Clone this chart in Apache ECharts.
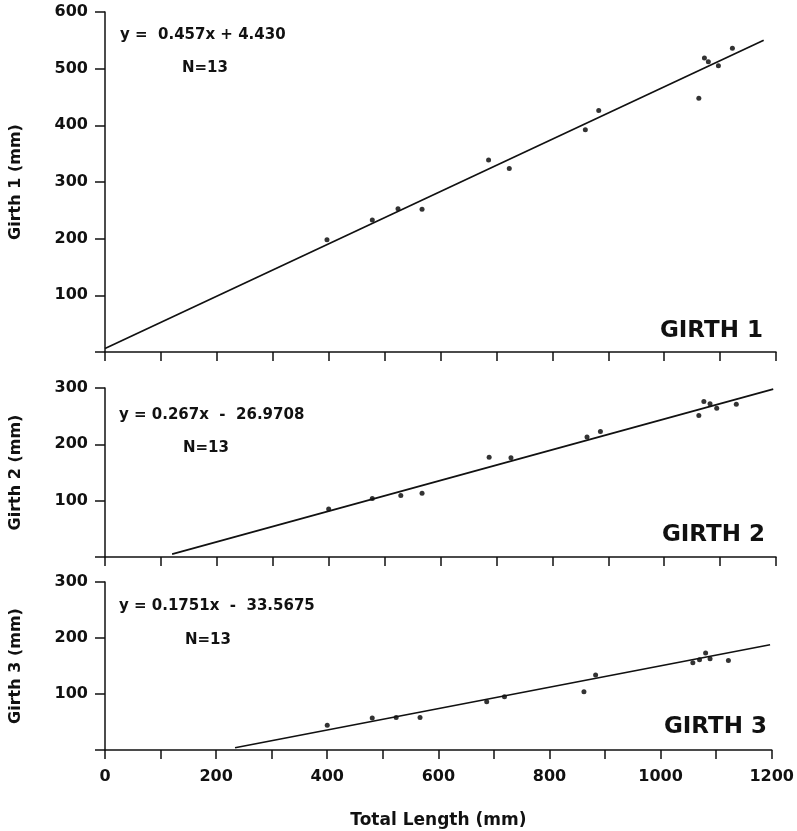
<!DOCTYPE html>
<html>
<head>
<meta charset="utf-8">
<script src="https://cdn.jsdelivr.net/npm/echarts@6/dist/echarts.min.js"></script>
<style>
  html, body { margin: 0; padding: 0; background: #fff; }
  #chart { width: 797px; height: 831px; }
</style>
</head>
<body>
<div id="chart"></div>
<script>
// measured points [total length, girth] for each panel
const girth1Points = [
  [397, 198], [478, 233], [524, 253], [567, 252], [686, 339], [723, 324],
  [859, 392], [883, 426], [1062, 448], [1072, 519], [1079, 512], [1097, 505], [1122, 536]
];
const girth2Points = [
  [400, 85], [478, 104], [529, 109], [567, 113], [687, 177], [726, 176],
  [862, 213], [886, 223], [1062, 251], [1071, 276], [1082, 272], [1094, 264], [1129, 271]
];
const girth3Points = [
  [400, 44], [481, 57], [524, 58], [567, 58], [687, 86], [719, 95],
  [862, 104], [883, 134], [1058, 156], [1070, 161], [1081, 173], [1089, 163], [1122, 160]
];

// regression line ends as drawn
const girth1Fit = [[0, 6], [1178, 550]];
const girth2Fit = [[120, 5], [1195, 298]];
const girth3Fit = [[234, 4], [1197, 188]];

const equations = ['y =  0.457x + 4.430', 'y = 0.267x  -  26.9708', 'y = 0.1751x  -  33.5675'];
const panelLabels = ['GIRTH 1', 'GIRTH 2', 'GIRTH 3'];
const yNames = ['Girth 1 (mm)', 'Girth 2 (mm)', 'Girth 3 (mm)'];
const yMax = [600, 300, 300];

const myChart = echarts.init(document.getElementById('chart'));

const font = 'DejaVu Sans';
const ink = '#111';

const grids = [
  { left: 105, right: 21, top: 12, height: 340 },
  { left: 105, right: 21, top: 388, height: 169 },
  { left: 105, right: 21, top: 582, height: 168 }
];

const xAxes = grids.map((g, i) => ({
  gridIndex: i,
  type: 'value',
  min: 0,
  max: 1200,
  interval: 100,
  splitLine: { show: false },
  axisLine: { lineStyle: { color: ink, width: 1.5 } },
  axisTick: { length: 9, lineStyle: { color: ink, width: 1.5 } },
  axisLabel: {
    show: i === 2,
    margin: 19,
    color: ink,
    fontFamily: font,
    fontWeight: 'bold',
    fontSize: 16,
    formatter: v => (v % 200 === 0 ? String(v) : '')
  },
  name: i === 2 ? 'Total Length (mm)' : '',
  nameLocation: 'middle',
  nameGap: 62,
  nameTextStyle: { color: ink, fontFamily: font, fontWeight: 'bold', fontSize: 17 }
}));

const yAxes = grids.map((g, i) => ({
  gridIndex: i,
  type: 'value',
  min: 0,
  max: yMax[i],
  interval: 100,
  splitLine: { show: false },
  axisLine: { lineStyle: { color: ink, width: 1.5 } },
  axisTick: { length: 10, lineStyle: { color: ink, width: 1.5 } },
  axisLabel: {
    margin: 17,
    color: ink,
    fontFamily: font,
    fontWeight: 'bold',
    fontSize: 16,
    formatter: v => (v === 0 ? '' : String(v))
  },
  name: yNames[i],
  nameLocation: 'middle',
  nameGap: 81,
  nameTextStyle: { color: ink, fontFamily: font, fontWeight: 'bold', fontSize: 16 }
}));

const pointSets = [girth1Points, girth2Points, girth3Points];
const fitSets = [girth1Fit, girth2Fit, girth3Fit];

const series = [];
pointSets.forEach((pts, i) => {
  series.push({
    type: 'line',
    xAxisIndex: i,
    yAxisIndex: i,
    data: fitSets[i],
    showSymbol: false,
    lineStyle: { color: ink, width: 1.7 },
    silent: true
  });
  series.push({
    type: 'scatter',
    xAxisIndex: i,
    yAxisIndex: i,
    data: pts,
    symbolSize: 5,
    itemStyle: { color: '#000' }
  });
});

const textStyle = (size) => ({ fill: ink, font: 'bold ' + size + 'px "' + font + '"' });
const eqPos = [[120, 35], [119, 415], [119, 606]];
const nPos = [[182, 68], [183, 448], [185, 640]];
const labelPos = [[763, 331], [765, 535], [767, 727]];

const graphic = [];
equations.forEach((eq, i) => {
  graphic.push({ type: 'text', x: eqPos[i][0], y: eqPos[i][1],
    style: Object.assign({ text: eq, textVerticalAlign: 'middle' }, textStyle(15)) });
  graphic.push({ type: 'text', x: nPos[i][0], y: nPos[i][1],
    style: Object.assign({ text: 'N=13', textVerticalAlign: 'middle' }, textStyle(15)) });
  graphic.push({ type: 'text', x: labelPos[i][0], y: labelPos[i][1],
    style: Object.assign({ text: panelLabels[i], textAlign: 'right', textVerticalAlign: 'middle' }, textStyle(23)) });
});

const option = {
  animation: false,
  backgroundColor: '#fff',
  grid: grids,
  xAxis: xAxes,
  yAxis: yAxes,
  series: series,
  graphic: graphic
};

option && myChart.setOption(option);
</script>
</body>
</html>
